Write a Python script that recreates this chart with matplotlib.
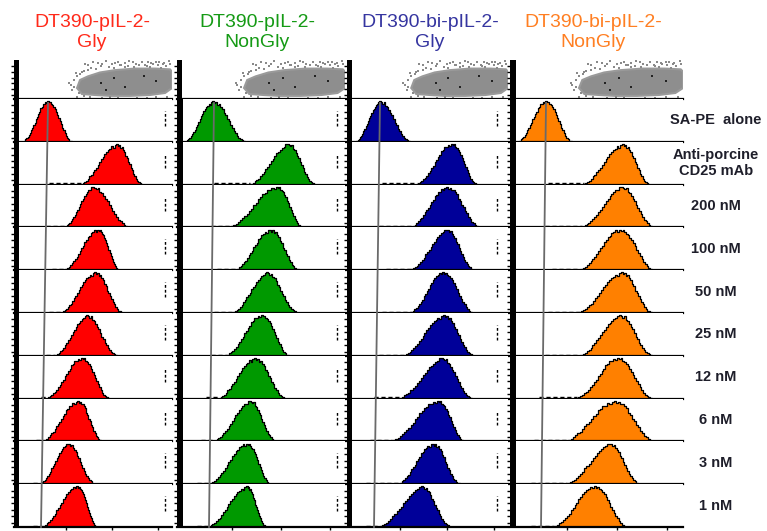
import numpy as np
import matplotlib.pyplot as plt
from matplotlib.lines import Line2D
from matplotlib.patches import Polygon

plt.rcParams['font.family'] = ['Liberation Sans', 'DejaVu Sans']

# column titles and colours
titles_top = ['DT390-pIL-2-', 'DT390-pIL-2-', 'DT390-bi-pIL-2-', 'DT390-bi-pIL-2-']
titles_bot = ['Gly', 'NonGly', 'Gly', 'NonGly']
title_colors = ['#ff2a1a', '#159a15', '#3535a0', '#ff7f22']
fill_colors = ['#ff0000', '#009900', '#000099', '#ff8000']

row_labels = ['SA-PE  alone', 'Anti-porcine\nCD25 mAb', '200 nM', '100 nM', '50 nM',
              '25 nM', '12 nM', '6 nM', '3 nM', '1 nM']

# histogram mode / left base / right base, in % of the axis (one list per column)
peaks = [
    [21.5, 65.2, 50.0, 53.2, 51.3, 46.2, 43.0, 40.5, 34.2, 39.9],
    [21.4, 66.1, 59.5, 55.4, 53.6, 50.6, 46.4, 43.5, 41.7, 41.7],
    [20.5, 65.2, 62.1, 62.1, 59.6, 60.2, 59.0, 56.5, 53.4, 46.6],
    [20.8, 65.3, 64.7, 63.6, 64.7, 63.6, 62.4, 60.7, 57.8, 49.1],
]
lefts = [
    [6.0, 43.0, 32.0, 32.0, 30.5, 26.0, 21.0, 19.0, 16.5, 18.0],
    [5.5, 43.5, 31.5, 35.5, 33.0, 29.5, 25.5, 22.0, 19.5, 19.5],
    [5.5, 43.5, 40.5, 39.5, 39.5, 36.0, 32.5, 28.0, 32.5, 20.0],
    [5.0, 43.0, 41.5, 40.5, 40.5, 40.5, 39.0, 33.0, 33.0, 25.5],
]
rights = [
    [37.0, 81.5, 73.5, 67.0, 69.0, 65.5, 60.5, 56.0, 51.5, 53.0],
    [41.0, 82.5, 75.0, 73.0, 72.0, 67.0, 65.0, 59.0, 56.0, 53.0],
    [39.5, 81.0, 83.0, 79.0, 79.0, 79.0, 78.0, 73.0, 70.5, 64.5],
    [36.0, 81.0, 83.5, 83.5, 82.5, 82.5, 82.5, 83.5, 75.0, 68.0],
]
# faint left tail of events (start, in % of the axis) per row
tail_start = [0, 22, 20, 24, 22, 20, 17, 14, 12, 12]

# histogram outline shapes (relative counts), base -> mode and mode -> base
shape_left = [
    [0, .03, .06, .09, .13, .17, .22, .28, .33, .41, .46, .55, .60, .69, .74, .82, .85, .92, .93, .98, .95, 1.0],
    [0, .04, .07, .10, .15, .20, .23, .30, .37, .42, .48, .56, .63, .68, .76, .80, .86, .88, .94, .91, .98, 1.0],
    [0, .02, .05, .08, .11, .15, .20, .26, .31, .39, .44, .50, .58, .64, .70, .77, .81, .86, .91, .93, .99, 1.0],
]
shape_right = [
    [.97, .99, .93, .90, .86, .80, .74, .66, .59, .50, .43, .35, .28, .21, .15, .10, .06, .03, .01, 0],
    [.95, .98, .91, .93, .86, .81, .71, .66, .55, .50, .41, .35, .26, .21, .14, .10, .06, .04, .02, 0],
    [.98, .94, .97, .88, .85, .78, .70, .65, .55, .47, .41, .32, .26, .19, .15, .10, .07, .04, .01, 0],
]

# scatter (FSC/SSC) cloud outline and sparse events, in % of the axes
cloud_x = [39.9, 41.8, 46.8, 54.4, 63.9, 76.6, 89.2, 98.7, 100, 100, 95.6, 86.1, 73.4, 60.8, 51.3, 43.0]
cloud_y = [28.2, 48.7, 58.0, 68.0, 74.0, 78.0, 78.0, 76.0, 70.0, 28.2, 15.4, 10.3, 8.0, 8.0, 10.3, 12.8]
dots_x = [45, 50, 53, 58, 62, 66, 70, 73, 77, 81, 85, 88, 92, 95, 98,
          47, 56, 64, 68, 75, 83, 87, 90, 94, 99,
          44, 49, 55, 60, 67, 72, 79, 84, 91, 96, 63, 70, 76, 86, 93,
          36, 38, 40, 37, 41, 39, 43, 47, 52, 35, 38, 42,
          40, 48, 56, 66, 78, 90, 97, 44, 61, 84]
dots_y = [90, 96, 93, 97, 91, 95, 92, 97, 90, 94, 96, 91, 95, 93, 97,
          86, 89, 93, 88, 95, 88, 92, 96, 89, 91,
          72, 80, 85, 82, 86, 84, 87, 85, 86, 84, 80, 83, 81, 82, 80,
          35, 48, 58, 22, 15, 66, 70, 75, 78, 42, 30, 63,
          6, 4, 3, 2, 3, 4, 5, 8, 5, 3]
dark_x = [55, 63, 70, 82, 90, 58]
dark_y = [40, 55, 30, 60, 45, 22]

W, H = 767, 531
col_left = [14, 177, 347, 510]
col_width = [158, 168, 161, 173]
title_x = [92, 257, 430, 593]
row_top0 = 99
row_h = 42.8

fig = plt.figure(figsize=(W / 100, H / 100), dpi=100)


def px_rect(x, y_top, w, h):
    return [x / W, 1 - (y_top + h) / H, w / W, h / H]


for c in range(4):
    # titles
    fig.text(title_x[c] / W, 1 - 27 / H, titles_top[c], color=title_colors[c], fontsize=14,
             ha='center', va='baseline')
    fig.text(title_x[c] / W, 1 - 47 / H, titles_bot[c], color=title_colors[c], fontsize=14,
             ha='center', va='baseline')

    # scatter panel
    ax = fig.add_axes(px_rect(col_left[c], 60, col_width[c], 39))
    ax.set_xlim(0, 100)
    ax.set_ylim(0, 100)
    ax.add_patch(Polygon(np.column_stack([cloud_x, cloud_y]), closed=True,
                         facecolor='#8e8e8e', edgecolor='#9a9a9a', lw=1.5))
    ax.scatter(dots_x, dots_y, s=1.2, marker='s', color='#8a8a8a', lw=0)
    ax.scatter(dark_x, dark_y, s=1.2, marker='s', color='#222222', lw=0)
    ax.axvspan(0, 3.2, color='black', lw=0)
    for s in ['top', 'right', 'left']:
        ax.spines[s].set_visible(False)
    ax.spines['bottom'].set_linewidth(1.6)
    ax.set_xticks(np.arange(5, 100, 8))
    ax.set_yticks([10, 25, 40, 55, 70, 85])
    ax.tick_params(length=2, width=1, labelbottom=False, labelleft=False, direction='out')

    # histogram panels
    for r in range(10):
        ax = fig.add_axes(px_rect(col_left[c], row_top0 + row_h * r, col_width[c], row_h))
        k = (r + c) % 3
        sl, sr = shape_left[k], shape_right[k]
        L, P, R = lefts[c][r], peaks[c][r], rights[c][r]
        xs = np.concatenate([np.linspace(L, P, len(sl)), np.linspace(P, R, len(sr) + 1)[1:]])
        ys = np.array(sl + sr) * 0.95
        if tail_start[r] and tail_start[r] < L:
            ax.plot([tail_start[r], L], [0.03, 0.03], color='black', lw=1, ls=(0, (3, 2)))
        ax.fill_between(xs, ys, step='mid', color=fill_colors[c], lw=0)
        ax.step(xs, ys, where='mid', color='black', lw=0.9)
        ax.axvspan(0, 3.4, color='black', lw=0)
        if c < 3:
            xm = [95.5, 95, 93][c]
            ax.plot([xm, xm], [0.38, 0.72], color='black', lw=1, ls=(0, (2, 1.5)))
        ax.set_xlim(0, 100)
        ax.set_ylim(0, 1.0)
        for s in ['top', 'right', 'left']:
            ax.spines[s].set_visible(False)
        ax.spines['bottom'].set_linewidth(1.6)
        ax.set_xticks([33, 62, 91])
        ax.set_yticks([0.1, 0.25, 0.4, 0.55, 0.7, 0.85])
        ax.tick_params(length=2, width=1, labelbottom=False, labelleft=False, direction='out')

# gray reference line through the SA-PE mode
ref_top = [48, 214, 380, 546]
ref_bot = [41, 209, 374, 541]
for c in range(4):
    fig.add_artist(Line2D([ref_top[c] / W, ref_bot[c] / W], [1 - 103 / H, 1 - 527 / H],
                          transform=fig.transFigure, color='#6a6a6a', lw=1.3, zorder=10))

# row labels on the right
for r, lab in enumerate(row_labels):
    yc = row_top0 + row_h * (r + 0.5)
    fig.text(716 / W, 1 - yc / H, lab, fontsize=10.5, fontweight='bold', color='#1e1e2a',
             ha='center', va='center', linespacing=1.15)

fig.savefig('out.png', dpi=100)
